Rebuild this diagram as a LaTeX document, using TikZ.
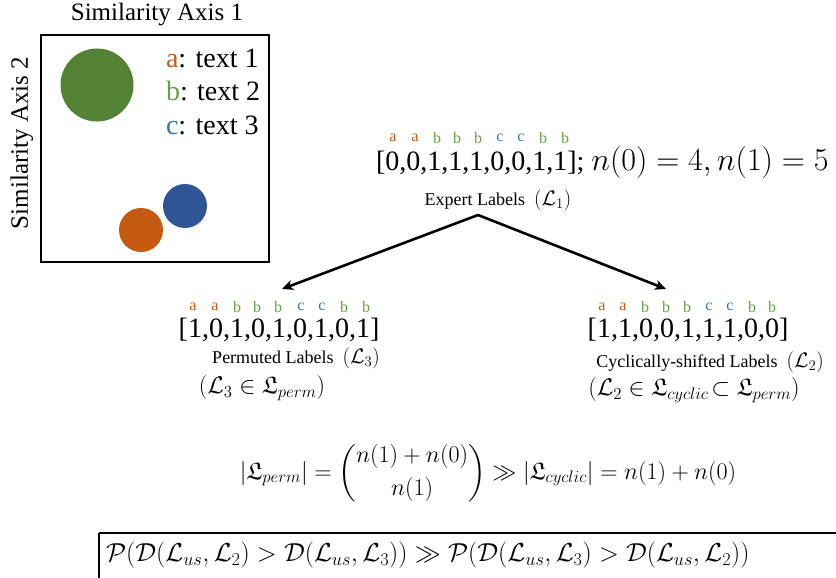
\documentclass[tikz,border=0pt]{standalone}
\usepackage{fix-cm}
\usepackage{amsmath,amssymb}
\usepackage{fontspec}
\setmainfont{Liberation Serif}
\usetikzlibrary{arrows.meta}
\definecolor{cOr}{HTML}{C55A11}
\definecolor{cGr}{HTML}{548235}
\definecolor{cGrL}{HTML}{6A9F45}
\definecolor{cBl}{HTML}{2F5597}
\definecolor{cBlL}{HTML}{2E75B6}
\newcommand{\fsz}[1]{\fontsize{#1}{#1}\selectfont}
\begin{document}
\begin{tikzpicture}[x=1pt,y=-1pt,
  every node/.style={inner sep=0pt,outer sep=0pt},
  lbl/.style={font=\fsz{16}},
  vec/.style={font=\fsz{28}},
  captxt/.style={font=\fsz{18}},
  memb/.style={font=\fsz{24}},
  arr/.style={line width=2.6pt,-{Stealth[length=11pt,width=10pt,inset=3pt]}},
  boxline/.style={line width=1.8pt}]
\clip (0,0) rectangle (836,578);
% left panel
\node[font=\fsz{25}] (ax1) at (157,15) {Similarity Axis 1};
\node[font=\fsz{25},rotate=90] (ax2) at (22,143) {Similarity Axis 2};
\draw[boxline] (41,35) rectangle (269,262);
\fill[cGr] (97,85) circle (36.5);
\fill[cBl] (185,206) circle (22);
\fill[cOr] (141,230) circle (22);
\node[font=\fsz{28},anchor=west] (la) at (166,58) {\textcolor{cOr}{a}: text 1};
\node[font=\fsz{28},anchor=west] (lb) at (166,91) {\textcolor{cGrL}{b}: text 2};
\node[font=\fsz{28},anchor=west] (lc) at (166,125) {\textcolor{cBlL}{c}: text 3};
% top vector
\foreach \x/\l/\c [count=\i] in {393/a/cOr,415/a/cOr,437/b/cGrL,457/b/cGrL,478/b/cGrL,500/c/cBlL,521/c/cBlL,543/b/cGrL,565/b/cGrL}
  \node[lbl,text=\c] (tl\i) at (\x,138) {\l};
\node[vec,anchor=west] (v1) at (376,163) {[0,0,1,1,1,0,0,1,1]; {\fsz{32}$n(0)=4, n(1)=5$}};
\node[captxt] (c1) at (498,200) {Expert Labels \ {\fsz{21}$(\mathcal{L}_1)$}};
\coordinate (apex) at (478,215);
\coordinate (ltip) at (282,289);
\coordinate (rtip) at (666,289);
\draw[arr] (apex) -- (ltip);
\draw[arr] (apex) -- (rtip);
% left vector
\foreach \x/\l/\c [count=\i] in {193/a/cOr,215/a/cOr,237/b/cGrL,257/b/cGrL,278/b/cGrL,301/c/cBlL,322/c/cBlL,344/b/cGrL,366/b/cGrL}
  \node[lbl,text=\c] (ll\i) at (\x,307) {\l};
\node[vec] (v3) at (279,330) {[1,0,1,0,1,0,1,0,1]};
\node[captxt] (c3) at (296,358) {Permuted Labels \ {\fsz{21}$(\mathcal{L}_3)$}};
\node[memb] (m3) at (262,388) {$(\mathcal{L}_3\in\mathfrak{L}_{perm})$};
% right vector
\foreach \x/\l/\c [count=\i] in {602/a/cOr,623/a/cOr,645/b/cGrL,666/b/cGrL,687/b/cGrL,709/c/cBlL,730/c/cBlL,752/b/cGrL,772/b/cGrL}
  \node[lbl,text=\c] (rl\i) at (\x,307) {\l};
\node[vec] (v2) at (688,330) {[1,1,0,0,1,1,1,0,0]};
\node[captxt] (c2) at (710,362) {Cyclically-shifted Labels \ {\fsz{21}$(\mathcal{L}_2)$}};
\node[memb] (m2) at (694,390) {$(\mathcal{L}_2\in\mathfrak{L}_{cyclic}\!\subset\mathfrak{L}_{perm})$};
% equation
\node[font=\fsz{24}] (eq) at (488,473) {$|\mathfrak{L}_{perm}|=\dbinom{n(1)+n(0)}{n(1)}\gg|\mathfrak{L}_{cyclic}|=n(1)+n(0)$};
% bottom box
\draw[boxline] (99,533) -- (845,533);
\draw[boxline] (99,533) -- (99,590);
\node[font=\fsz{26},anchor=west] (pb) at (106,555) {$\mathcal{P}(\mathcal{D}(\mathcal{L}_{us},\mathcal{L}_2)>\mathcal{D}(\mathcal{L}_{us},\mathcal{L}_3))\gg\mathcal{P}(\mathcal{D}(\mathcal{L}_{us},\mathcal{L}_3)>\mathcal{D}(\mathcal{L}_{us},\mathcal{L}_2))$};
\end{tikzpicture}
\end{document}
